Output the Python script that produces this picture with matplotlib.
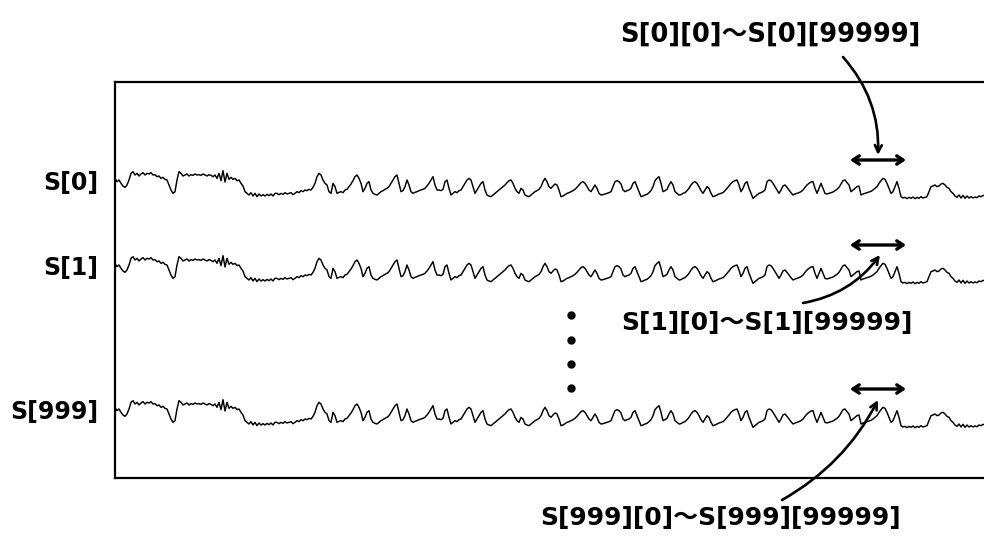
import numpy as np
import matplotlib
matplotlib.use("Agg")
import matplotlib.pyplot as plt

# one recorded trace, level read every 2 px across the box (0 = quiet floor)
wave = [
    # lead-in plateau, dip, burst, then quiet stretch
    65, 55, 60, 50, 42, 38, 45, 60, 80, 85, 75, 80, 72, 78, 82, 75, 80, 78, 82, 75,
    76, 70, 72, 65, 68, 62, 60, 45, 30, 20, 25, 60, 85, 80, 72, 75, 78, 72, 76, 74,
    78, 75, 76, 74, 78, 75, 72, 76, 74, 70, 75, 65, 80, 58, 88, 54, 80, 62, 68, 62,
    65, 58, 60, 50, 42, 25, 20, 15, 22, 12, 20, 10, 18, 12, 16, 12, 17, 13, 18, 12,
    20,
    20, 16, 20, 17, 22, 18, 20, 22, 16, 20, 25, 22, 28, 25, 30, 28, 32, 30, 38, 50,
    70, 80, 75, 60, 50, 45, 25, 20, 50, 40, 20, 23, 25, 22, 30, 32, 40, 48, 58, 70,
    75, 65, 50, 25, 35, 50, 55, 30, 20, 17, 15, 20, 25, 28, 32, 35, 40, 50, 60, 70,
    75, 50, 25, 28, 40, 60, 45, 25, 20, 23, 25, 28, 30, 32, 35, 42, 50, 60, 70, 45,
    30,
    30, 28, 32, 55, 60, 35, 15, 20, 25, 22, 28, 30, 40, 50, 60, 65, 60, 40, 20, 30,
    40, 50, 55, 30, 15, 12, 10, 15, 20, 25, 30, 35, 40, 45, 52, 58, 60, 50, 35, 25,
    20, 35, 30, 15, 12, 10, 15, 20, 25, 28, 32, 40, 55, 65, 55, 40, 35, 42, 48, 45,
    30, 10, 12, 16, 20, 22, 25, 28, 32, 38, 45, 52, 55, 50, 40, 30, 25, 35, 45, 35,
    20, 15,
    16, 18, 20, 22, 25, 40, 55, 58, 55, 48, 30, 25, 28, 30, 35, 50, 55, 40, 25, 10,
    12, 15, 17, 22, 28, 40, 58, 65, 70, 50, 25, 28, 32, 45, 55, 45, 25, 20, 15, 16,
    20, 22, 28, 35, 45, 52, 55, 50, 40, 28, 20, 30, 40, 35, 20, 10, 12, 15, 18, 20,
    22, 28, 35, 42, 50, 55, 58, 60, 45, 25, 35, 50, 55, 35, 20, 5, 10, 15, 20, 22,
    25, 30,
    # last cycles, drop-out and quiet tail
    55, 60, 58, 50, 40, 30, 20, 30, 42, 45, 38, 30, 22, 15, 18, 20, 22, 25, 30, 38,
    45, 50, 54, 55, 35, 20, 35, 50, 35, 20, 18, 20, 22, 24, 28, 32, 38, 48, 58, 60,
    52, 45, 25, 30, 35, 40, 42, 15, 18, 20, 22, 24, 26, 30, 35, 40, 50, 58, 65, 62,
    50, 35, 20, 25, 40, 55, 35, 10, 6, 8, 4, 8, 5, 9, 4, 8, 5, 10, 6, 8,
    10, 25, 40, 42, 45, 40, 42, 48, 50, 45, 38, 35, 25, 20, 12, 8, 15, 6, 14, 5,
    12, 6, 10, 6, 9, 7, 12, 10, 14, 12,
]
step = 2

# channels drawn in the box
chan_names = ["S[0]", "S[1]", "S[999]"]
chan_base = [834, 579, 147]
win_labels = ["S[0][0]～S[0][99999]", "S[1][0]～S[1][99999]",
              "S[999][0]～S[999][99999]"]
win_start, win_end = 735, 791      # the 100000-sample window
dots_t = 456
dots_y = [489, 414, 342, 270]

plt.rcParams['font.family'] = ['DejaVu Sans', 'Noto Sans CJK JP']
plt.rcParams['font.weight'] = 'bold'

fig = plt.figure(figsize=(9.84, 5.38), dpi=100)
ax = fig.add_axes([115/984, 60/538, (994-115)/984, 396/538])
ax.set_xlim(0, 879)
ax.set_ylim(0, 1188)
ax.set_xticks([])
ax.set_yticks([])
for sp in ax.spines.values():
    sp.set_linewidth(1.6)

t = np.arange(len(wave)) * step
lv = np.array(wave, dtype=float)

for name, base in zip(chan_names, chan_base):
    ax.plot(t, base + lv, color='black', lw=1.05, clip_on=True)
    ax.text(-0.019, base + 50, name, transform=ax.get_yaxis_transform(),
            ha='right', va='center', fontsize=17, fontweight='bold')
    ax.annotate("", xy=(win_end, base + 120), xytext=(win_start, base + 120),
                arrowprops=dict(arrowstyle="<->,head_length=0.45,head_width=0.3",
                                lw=2.4, color='black', shrinkA=0, shrinkB=0))

ax.plot([dots_t]*len(dots_y), dots_y, 'o', color='black', ms=5)

# window labels with curved leaders
label_xy = [(770, 35), (767, 323), (721, 518)]
lead_from = [(843, 57), (803, 303), (782, 500)]
lead_to = [(763, 969), (765, 669), (763, 234)]
lead_rad = [-0.2, 0.2, 0.15]
sizes = [18.5, 18, 18]
for lab, (lx, ly), (fx, fy), tgt, rad, fs in zip(win_labels, label_xy, lead_from,
                                                 lead_to, lead_rad, sizes):
    fig.text(lx/984, 1 - ly/538, lab, ha='center', va='center',
             fontsize=fs, fontweight='bold')
    ax.annotate("", xy=tgt, xycoords='data',
                xytext=(fx, 538 - fy), textcoords='figure pixels',
                arrowprops=dict(arrowstyle="->,head_length=0.5,head_width=0.25",
                                lw=1.9, color='black', shrinkA=0, shrinkB=0,
                                connectionstyle=f"arc3,rad={rad}"),
                annotation_clip=False)

fig.savefig("out.png", dpi=100)
